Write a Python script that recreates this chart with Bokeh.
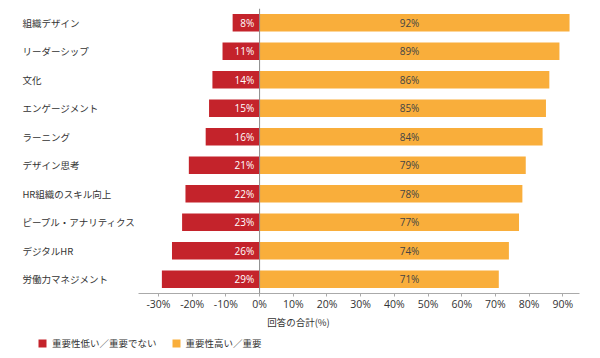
from bokeh.plotting import figure
from bokeh.layouts import column
from bokeh.models import (ColumnDataSource, FactorRange, Range1d, LinearAxis, FixedTicker,
                          PrintfTickFormatter, Span, Legend, LegendItem)
from bokeh.core.properties import value
from bokeh.embed import file_html
from bokeh.resources import INLINE

categories = ["組織デザイン", "リーダーシップ", "文化", "エンゲージメント", "ラーニング",
              "デザイン思考", "HR組織のスキル向上", "ピープル・アナリティクス", "デジタルHR", "労働力マネジメント"]
low_values = [8, 11, 14, 15, 16, 21, 22, 23, 26, 29]
high_values = [92, 89, 86, 85, 84, 79, 78, 77, 74, 71]
tick_values = [-30, -20, -10, 0, 10, 20, 30, 40, 50, 60, 70, 80, 90]
series_names = ["重要性低い／重要でない", "重要性高い／重要"]
axis_title = "回答の合計(%)"

RED = "#C4232B"
ORANGE = "#F9AE3B"
JP = "Noto Sans CJK JP"
NUM = "Open Sans"

LABEL_X = -70.4
HIGH_LABEL_X = 44.5
LOW_LABEL_X = -1.6

src = ColumnDataSource(dict(
    cat=categories,
    neg=[-v for v in low_values],
    high=high_values,
    zero=[0] * len(categories),
    low_txt=[f"{v}%" for v in low_values],
    high_txt=[f"{v}%" for v in high_values],
    lx=[LABEL_X] * len(categories),
    hx=[HIGH_LABEL_X] * len(categories),
    nx=[LOW_LABEL_X] * len(categories),
))

p = figure(width=596, height=333, output_backend="svg", toolbar_location=None,
           y_range=FactorRange(factors=list(reversed(categories)), range_padding=0),
           x_range=Range1d(-76.9, 100.0),
           x_axis_location=None, y_axis_location=None,
           min_border_left=0, min_border_right=0, min_border_top=8, min_border_bottom=40)
p.outline_line_color = None
p.grid.visible = False

r_low = p.hbar(y="cat", left="neg", right="zero", height=0.61, source=src,
               fill_color=RED, line_color=None)
r_high = p.hbar(y="cat", left="zero", right="high", height=0.61, source=src,
                fill_color=ORANGE, line_color=None)

p.add_layout(Span(location=0, dimension="height", line_color="#8a8a8a", line_width=1))

p.text(x="lx", y="cat", text="cat", source=src, text_font=value(JP), text_font_size="9.5px",
       text_color="#333333", text_baseline="middle", text_align="left")
p.text(x="nx", y="cat", text="low_txt", source=src, text_font=value(NUM), text_font_size="10px",
       text_color="white", text_baseline="middle", text_align="right")
p.text(x="hx", y="cat", text="high_txt", source=src, text_font=value(NUM), text_font_size="10px",
       text_color="#444444", text_baseline="middle", text_align="center")

xaxis = LinearAxis(ticker=FixedTicker(ticks=tick_values), formatter=PrintfTickFormatter(format="%d%%"),
                   bounds=(-36, 95), axis_label=axis_title)
xaxis.axis_line_color = "#aaaaaa"
xaxis.major_tick_line_color = "#aaaaaa"
xaxis.major_tick_in = 0
xaxis.major_tick_out = 3
xaxis.minor_tick_line_color = None
xaxis.major_label_standoff = 0
xaxis.major_label_text_font = NUM
xaxis.major_label_text_font_size = "10.5px"
xaxis.major_label_text_color = "#333333"
xaxis.axis_label_standoff = 1
xaxis.axis_label_text_font = JP
xaxis.axis_label_text_font_size = "9.5px"
xaxis.axis_label_text_font_style = "normal"
xaxis.axis_label_text_color = "#333333"
p.add_layout(xaxis, "below")

# legend strip below the chart; its bars use the same data but lie outside this strip's view
q = figure(width=596, height=25, output_backend="svg", toolbar_location=None,
           x_range=Range1d(500, 501), y_range=Range1d(500, 501),
           x_axis_location=None, y_axis_location=None,
           min_border_left=0, min_border_right=0, min_border_top=0, min_border_bottom=0)
q.outline_line_color = None
q.grid.visible = False
k_low = q.hbar(y="zero", left="neg", right="zero", height=0.61, source=src, fill_color=RED, line_color=None)
k_high = q.hbar(y="zero", left="zero", right="high", height=0.61, source=src, fill_color=ORANGE, line_color=None)

legend = Legend(items=[LegendItem(label=series_names[0], renderers=[k_low]),
                       LegendItem(label=series_names[1], renderers=[k_high])],
                orientation="horizontal", location=(37, 8),
                glyph_width=10, glyph_height=10, label_standoff=5, spacing=14,
                padding=0, margin=0, border_line_color=None, background_fill_alpha=0,
                label_text_font=JP, label_text_font_size="9.5px", label_text_color="#333333",
                label_height=14)
q.add_layout(legend, "center")

layout = column(p, q, spacing=0)
open("out.html", "w").write(file_html(layout, INLINE))
